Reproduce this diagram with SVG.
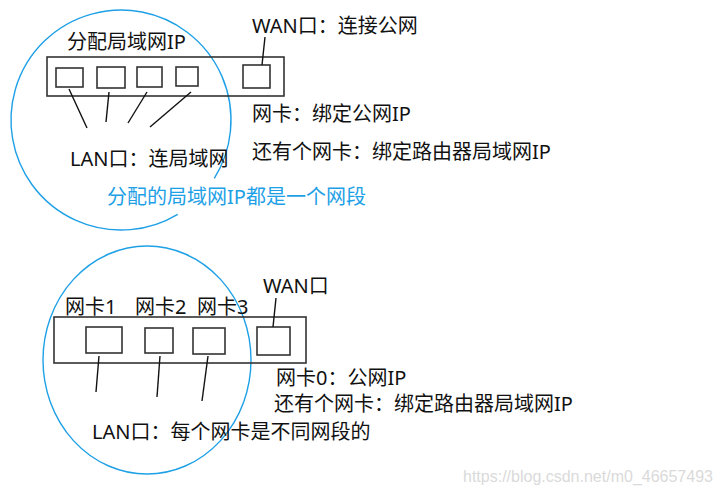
<svg xmlns="http://www.w3.org/2000/svg" width="720" height="495" viewBox="0 0 720 495">
<style>
.t{font-family:"Noto Sans","Noto Sans CJK SC",sans-serif;font-size:20px;fill:#111}
.b{fill:#1ea0e6}
.box{fill:none;stroke:#333;stroke-width:1.6}
.ln{fill:none;stroke:#111;stroke-width:1.4}
.ring{fill:none;stroke:#1ea0e6;stroke-width:1.4}
.wm{font-family:"Liberation Sans",Arial,sans-serif;font-size:16px;fill:#dadada}
</style>
<rect width="720" height="495" fill="#fff"/>
<g id="top-router">
<path class="ring" d="M177.7,214.3 A110,110 0 1 1 214.3,178.3"/>
<rect class="box" x="47" y="57" width="237" height="39"/>
<rect class="box" x="56" y="68" width="27" height="19"/>
<rect class="box" x="97" y="67" width="28" height="21"/>
<rect class="box" x="137" y="67" width="25" height="20"/>
<rect class="box" x="176" y="67" width="22" height="19"/>
<rect class="box" x="243" y="65" width="27" height="23"/>
<text class="t" x="67" y="49">分配局域网IP</text>
<text class="t" x="252" y="33">WAN口：连接公网</text>
<text class="t" x="252" y="121">网卡：绑定公网IP</text>
<text class="t" x="252" y="159">还有个网卡：绑定路由器局域网IP</text>
<text class="t" x="70" y="166">LAN口：连局域网</text>
<text class="t b" x="107" y="204">分配的局域网IP都是一个网段</text>
</g>
<g id="bottom-router">
<ellipse class="ring" cx="147" cy="360" rx="104" ry="114"/>
<rect class="box" x="54" y="317" width="252" height="46"/>
<rect class="box" x="86" y="327" width="36" height="26"/>
<rect class="box" x="145" y="328" width="28" height="25"/>
<rect class="box" x="193" y="328" width="32" height="26"/>
<rect class="box" x="257" y="327" width="33" height="28"/>
<text class="t" x="65" y="314">网卡1</text>
<text class="t" x="135" y="314">网卡2</text>
<text class="t" x="197" y="314">网卡3</text>
<text class="t" x="263" y="293">WAN口</text>
<text class="t" x="276" y="385">网卡0：公网IP</text>
<text class="t" x="274" y="411">还有个网卡：绑定路由器局域网IP</text>
<text class="t" x="92" y="439">LAN口：每个网卡是不同网段的</text>
</g>
<g id="connectors">
<line class="ln" x1="69" y1="89" x2="87" y2="128"/>
<line class="ln" x1="109" y1="92" x2="106" y2="122"/>
<line class="ln" x1="147" y1="92" x2="128" y2="123"/>
<line class="ln" x1="191" y1="92" x2="150" y2="127"/>
<line class="ln" x1="265" y1="37" x2="262" y2="65"/>
<line class="ln" x1="99" y1="356" x2="96" y2="392"/>
<line class="ln" x1="160" y1="356" x2="157" y2="397"/>
<line class="ln" x1="208" y1="356" x2="202" y2="401"/>
<line class="ln" x1="276" y1="298" x2="273" y2="327"/>
</g>
<text class="wm" x="463" y="482">https://blog.csdn.net/m0_46657493</text>
</svg>
